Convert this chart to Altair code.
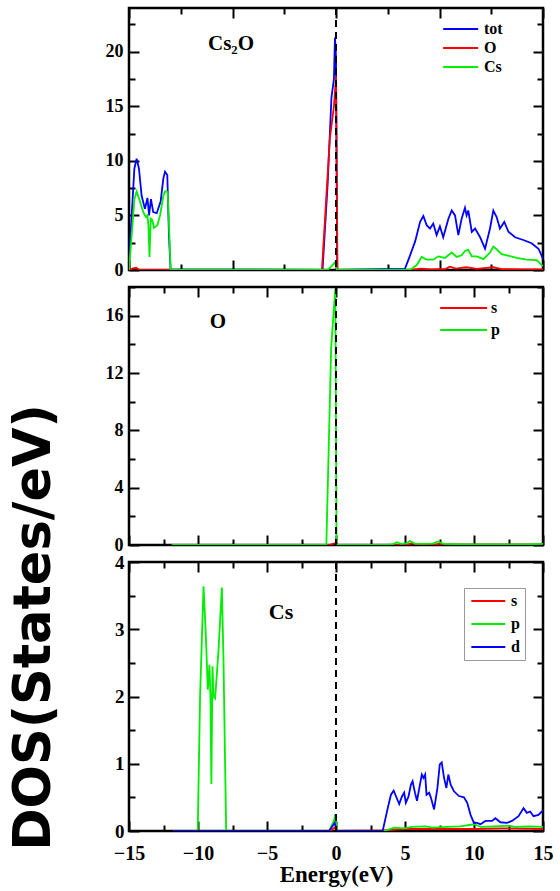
import altair as alt
import pandas as pd

# ---------------- data ----------------
FERMI = 0.0

# Panel 1: Cs2O total DOS (energy window -10..10 eV)
tot_E = [-10.0, -9.95, -9.87, -9.74, -9.63, -9.52, -9.39, -9.23, -9.11, -9.03,
         -8.94, -8.83, -8.66, -8.47, -8.34, -8.26, -8.15, -8.07, -7.99, -0.65,
         -0.4, -0.22, -0.1, -0.05, 0.0, 0.06, 3.33, 3.57, 3.82, 4.06,
         4.22, 4.38, 4.54, 4.70, 4.86, 5.02, 5.18, 5.43, 5.59, 5.75,
         5.91, 6.07, 6.23, 6.31, 6.39, 6.56, 6.72, 6.96, 7.2, 7.44,
         7.60, 7.76, 7.92, 8.13, 8.33, 8.65, 9.05, 9.45, 9.78, 9.94, 10.0]
tot_D = [0.3, 2.5, 5.0, 9.3, 10.2, 9.3, 6.8, 5.6, 6.6, 5.0,
         6.5, 5.3, 5.2, 6.3, 8.4, 9.0, 8.7, 3.2, 0.05, 0.0,
         8.0, 15.8, 17.5, 21.3, 19.5, 0.0, 0.1, 1.3, 2.6, 4.4,
         4.95, 4.1, 3.8, 4.25, 3.2, 4.0, 3.0, 4.7, 5.45, 5.0,
         3.2, 4.7, 5.7, 5.0, 5.45, 3.5, 3.8, 3.0, 1.95, 3.8,
         5.45, 4.85, 3.8, 4.4, 3.5, 3.0, 2.75, 2.45, 1.95, 1.3, 1.0]

o_E = [-10.0, -9.8, -9.65, -9.5, -0.68, -0.3, -0.1, 0.0, 0.07, 3.6,
       4.1, 4.6, 5.3, 5.5, 5.8, 6.3, 6.8, 7.6, 8.0, 9.0, 10.0]
o_D = [0.0, 0.15, 0.2, 0.0, 0.0, 12.0, 15.0, 17.7, 0.0, 0.0,
       0.12, 0.05, 0.1, 0.3, 0.12, 0.25, 0.1, 0.25, 0.08, 0.05, 0.05]

cs_E = [-10.0, -9.87, -9.74, -9.63, -9.47, -9.31, -9.18, -9.11, -9.06, -9.01,
        -8.95, -8.88, -8.79, -8.63, -8.5, -8.34, -8.26, -8.13, -8.05, -7.99,
        -0.4, -0.15, -0.05, 0.05, 3.57, 3.9, 4.14, 4.38, 4.70, 4.94,
        5.26, 5.59, 5.83, 6.07, 6.23, 6.39, 6.56, 6.8, 7.12, 7.44,
        7.60, 7.76, 8.0, 8.25, 8.73, 9.21, 9.70, 9.99]
cs_D = [0.0, 3.2, 6.5, 7.2, 6.3, 5.3, 4.85, 5.0, 4.0, 1.2,
        4.7, 4.6, 3.85, 4.1, 5.0, 6.8, 7.2, 7.15, 3.2, 0.0,
        0.0, 0.5, 0.7, 0.0, 0.0, 0.45, 1.2, 0.95, 0.95, 1.25,
        1.1, 1.6, 1.2, 1.35, 1.75, 1.85, 1.25, 1.25, 1.0, 1.6,
        2.15, 1.9, 1.45, 1.35, 1.1, 0.95, 0.9, 0.35]

# Panel 2: O partial DOS
os_E = [-11.9, -0.5, -0.1, 0.0, 0.1, 3.5, 5.2, 5.5, 5.9, 7.2, 7.5, 7.8, 15.0]
os_D = [0.0, 0.0, 0.12, 0.15, 0.0, 0.0, 0.03, 0.12, 0.03, 0.03, 0.1, 0.02, 0.02]
op_E = [-11.9, -0.7, -0.35, -0.05, 0.04, 3.5, 4.1, 4.4, 4.7, 5.1,
        5.36, 5.7, 6.2, 7.0, 7.4, 7.8, 8.5, 10.0, 12.0, 14.0, 15.0]
op_D = [0.0, 0.0, 13.8, 17.9, 0.0, 0.0, 0.05, 0.2, 0.08, 0.12,
        0.28, 0.1, 0.08, 0.1, 0.25, 0.08, 0.06, 0.05, 0.05, 0.05, 0.08]

# Panel 3: Cs partial DOS
css_E = [-11.8, -0.4, -0.1, 0.05, 3.5, 5.0, 7.0, 10.0, 12.0, 15.0]
css_D = [0.0, 0.0, 0.05, 0.0, 0.01, 0.03, 0.03, 0.03, 0.04, 0.03]
csp_E = [-11.8, -10.02, -9.85, -9.6, -9.43, -9.29, -9.17, -9.1, -9.03, -8.95,
         -8.88, -8.76, -8.51, -8.27, -8.15, -7.96, -0.5, -0.15, -0.05, 0.05,
         3.5, 3.8, 4.2, 5.0, 5.5, 6.5, 7.0, 8.0, 9.0, 10.0,
         10.5, 11.5, 12.5, 13.0, 14.0, 15.0]
csp_D = [0.0, 0.0, 2.0, 3.64, 2.9, 2.1, 2.47, 2.0, 0.7, 2.45,
         2.0, 1.97, 2.7, 3.62, 2.5, 0.0, 0.0, 0.15, 0.25, 0.0,
         0.0, 0.02, 0.05, 0.04, 0.06, 0.07, 0.05, 0.06, 0.07, 0.1,
         0.06, 0.07, 0.08, 0.06, 0.07, 0.06]
csd_E = [-11.8, -0.5, -0.3, -0.1, 0.0, 0.05, 3.38, 3.75, 3.98, 4.18,
         4.34, 4.58, 4.77, 4.94, 5.06, 5.25, 5.43, 5.55, 5.72, 5.87,
         6.04, 6.22, 6.34, 6.46, 6.56, 6.75, 6.87, 7.11, 7.35, 7.52,
         7.66, 7.83, 8.0, 8.14, 8.31, 8.55, 8.91, 9.27, 9.51, 9.75,
         9.99, 10.23, 10.47, 10.83, 11.31, 11.55, 11.91, 12.39, 12.75, 13.23,
         13.59, 13.83, 14.07, 14.31, 14.67, 14.91, 15.0]
csd_D = [0.0, 0.0, 0.06, 0.12, 0.05, 0.0, 0.0, 0.34, 0.54, 0.6,
         0.52, 0.4, 0.51, 0.57, 0.42, 0.51, 0.69, 0.74, 0.57, 0.45,
         0.64, 0.84, 0.79, 0.84, 0.54, 0.57, 0.5, 0.32, 0.64, 0.99,
         1.02, 0.79, 0.64, 0.84, 0.69, 0.59, 0.52, 0.5, 0.42, 0.24,
         0.12, 0.12, 0.1, 0.15, 0.15, 0.19, 0.13, 0.12, 0.15, 0.22,
         0.34, 0.27, 0.29, 0.22, 0.24, 0.29, 0.3]

BLUE, RED, GREEN = "#0000ff", "#ff0000", "#00ee00"
SERIF = "Liberation Serif"
W = 414


def frame(series):
    parts = []
    for name, E, D in series:
        d = pd.DataFrame({"E": E, "D": D})
        d["series"] = name
        parts.append(d)
    return pd.concat(parts, ignore_index=True)


def rng(a, b, step):
    out, v = [], a
    while v <= b + 1e-9:
        out.append(round(v, 4))
        v += step
    return out


def tick_axis(orient, values, size, title_kw=None, labels=False, label_kw=None):
    """Frame ticks pointing into the plot: axis pulled inside by its own tick length."""
    kw = dict(orient=orient, values=values, labels=labels, domain=False, grid=False,
              ticks=True, tickSize=size, tickWidth=2, tickColor="black",
              offset=-size, title=None)
    return alt.Axis(**kw)


def panel(series, colors, xdom, ydom, xmaj, xmin, ymaj, ymin, height, label, lab_xy,
          lab_size, legend, bottom=False, ylab_size=18):
    df = frame(series)
    names = [s[0] for s in series]
    xs = alt.Scale(domain=xdom, nice=False, zero=False, padding=0)
    ys = alt.Scale(domain=ydom, nice=False, zero=False, padding=0)
    # labelled axes, ticks outward but short, on the lines layer
    if bottom:
        xaxis = alt.Axis(orient="bottom", values=xmaj, ticks=True, tickSize=0, domain=False,
                         grid=False, labelFont=SERIF, labelFontWeight="bold", labelFontSize=20,
                         labelPadding=12, labelColor="black", format="d", labelFlush=False,
                         title="Energy(eV)", titleFont=SERIF, titleFontWeight="bold",
                         titleFontSize=23, titleColor="black", titlePadding=0)
        yaxis = alt.Axis(orient="left", values=ymaj, ticks=True, tickSize=0, domain=False,
                         grid=False, labelFont=SERIF, labelFontWeight="bold",
                         labelFontSize=ylab_size, labelPadding=5, labelColor="black",
                         format="d", labelFlush=False,
                         title="DOS(States/eV)", titleFont="DejaVu Sans", titleFontWeight="bold",
                         titleFontSize=51, titleColor="black", titleAngle=270,
                         titleAlign="center", titleBaseline="middle",
                         titleX=-95, titleY=65)
    else:
        xaxis = None
        yaxis = alt.Axis(orient="left", values=ymaj, ticks=True, tickSize=0, domain=False,
                         grid=False, labelFont=SERIF, labelFontWeight="bold",
                         labelFontSize=ylab_size, labelPadding=6, labelColor="black",
                         format="d", labelFlush=False, title=None)
    lines = alt.Chart(df).mark_line(strokeWidth=1.8, clip=True).encode(
        x=alt.X("E:Q", scale=xs, axis=xaxis),
        y=alt.Y("D:Q", scale=ys, axis=yaxis),
        color=alt.Color("series:N", scale=alt.Scale(domain=names, range=colors),
                        legend=alt.Legend(**legend)),
        order=alt.Order("E:Q"),
    )
    fermi = alt.Chart(df).mark_rule(strokeDash=[7, 5], strokeWidth=2, color="black").encode(
        x=alt.XDatum(FERMI, axis=None, scale=xs)
    )
    text = alt.Chart(pd.DataFrame({"t": [label]})).mark_text(
        font=SERIF, fontWeight="bold", fontSize=lab_size, color="black",
        align="center", baseline="middle"
    ).encode(text="t:N", x=alt.value(lab_xy[0]), y=alt.value(lab_xy[1]))

    # invisible layers that each carry a pair of inward tick axes
    def carrier(xv, yv, size, xo, yo):
        return alt.Chart(df).mark_line(strokeOpacity=0).encode(
            x=alt.X("E:Q", scale=xs, axis=tick_axis(xo, xv, size)),
            y=alt.Y("D:Q", scale=ys, axis=tick_axis(yo, yv, size)),
            detail="series:N",
        )

    layers = [
        lines, fermi, text,
        carrier(xmaj, ymaj, 10, "bottom", "left"),
        carrier(xmin, ymin, 6, "bottom", "left"),
        carrier(xmaj, ymaj, 10, "top", "right"),
        carrier(xmin, ymin, 6, "top", "right"),
    ]
    return alt.layer(*layers).resolve_axis(x="independent", y="independent").properties(
        width=W, height=height)


leg_common = dict(orient="none", title=None, symbolStrokeWidth=2,
                  symbolFillColor="transparent", symbolType="M-1,0H5",
                  labelFont=SERIF, labelFontWeight="bold", labelFontSize=16,
                  labelColor="black")

p1 = panel([("tot", tot_E, tot_D), ("O", o_E, o_D), ("Cs", cs_E, cs_D)],
           [BLUE, RED, GREEN], [-10, 10], [0, 24],
           rng(-10, 10, 5), rng(-7.5, 7.5, 5), rng(0, 20, 5), rng(2.5, 22.5, 5),
           262, "Cs₂O", (102, 36), 21,
           dict(leg_common, legendX=312, legendY=13, symbolSize=136, labelOffset=27,
                rowPadding=3, padding=0))

p2 = panel([("s", os_E, os_D), ("p", op_E, op_D)],
           [RED, GREEN], [-15, 15], [0, 18],
           rng(-15, 15, 5), rng(-12.5, 12.5, 5), rng(0, 16, 4), rng(2, 18, 4),
           258, "O", (89, 35), 21,
           dict(leg_common, legendX=310, legendY=12, symbolSize=245, labelOffset=34,
                rowPadding=5, padding=0))

p3 = panel([("s", css_E, css_D), ("p", csp_E, csp_D), ("d", csd_E, csd_D)],
           [RED, GREEN, BLUE], [-15, 15], [0, 4],
           rng(-15, 15, 5), rng(-12.5, 12.5, 5), rng(0, 4, 1), rng(0.5, 3.5, 1),
           269, "Cs", (152, 50), 22,
           dict(leg_common, legendX=335, legendY=26, symbolSize=128, labelOffset=26,
                rowPadding=7, padding=5, strokeColor="#999999"),
           bottom=True, ylab_size=19)

chart = alt.vconcat(p1, p2, p3, spacing=17, bounds="flush").resolve_scale(
    x="independent", y="independent", color="independent"
).properties(
    padding={"left": 6, "top": 5, "right": 5, "bottom": 5}
).configure_view(stroke="black", strokeWidth=2.5)

chart.save("out.html", embed_options={"renderer": "svg", "actions": False})
